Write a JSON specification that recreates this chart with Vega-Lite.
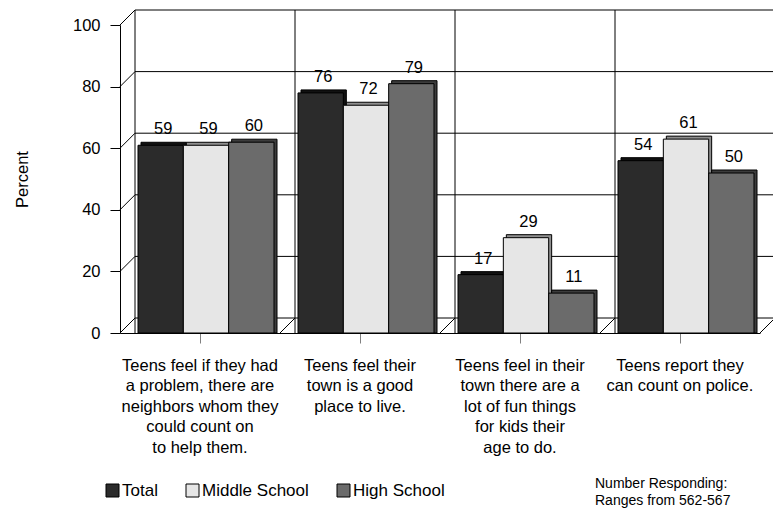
{
  "$schema": "https://vega.github.io/schema/vega-lite/v6.json",
  "width": 640,
  "height": 308,
  "autosize": {"type": "none"},
  "padding": {"left": 120, "top": 25, "right": 13, "bottom": 175},
  "background": "white",
  "config": {
    "font": "Liberation Sans",
    "view": {"stroke": null},
    "axis": {"domainColor": "black", "labelColor": "black", "titleColor": "black", "grid": false}
  },
  "title": {
    "text": ["Number Responding:", "Ranges from 562-567"],
    "orient": "bottom",
    "anchor": "start",
    "align": "left",
    "frame": "group",
    "dx": 475,
    "offset": -22,
    "baseline": "top",
    "fontSize": 14,
    "fontWeight": "normal",
    "lineHeight": 17,
    "color": "black"
  },
  "datasets": {
    "survey": [
      {"item": "Teens feel if they had\na problem, there are\nneighbors whom they\ncould count on\nto help them.", "group": "Total", "percent": 59},
      {"item": "Teens feel if they had\na problem, there are\nneighbors whom they\ncould count on\nto help them.", "group": "Middle School", "percent": 59},
      {"item": "Teens feel if they had\na problem, there are\nneighbors whom they\ncould count on\nto help them.", "group": "High School", "percent": 60},
      {"item": "Teens feel their\ntown is a good\nplace to live.", "group": "Total", "percent": 76},
      {"item": "Teens feel their\ntown is a good\nplace to live.", "group": "Middle School", "percent": 72},
      {"item": "Teens feel their\ntown is a good\nplace to live.", "group": "High School", "percent": 79},
      {"item": "Teens feel in their\ntown there are a\nlot of fun things\nfor kids their\nage to do.", "group": "Total", "percent": 17},
      {"item": "Teens feel in their\ntown there are a\nlot of fun things\nfor kids their\nage to do.", "group": "Middle School", "percent": 29},
      {"item": "Teens feel in their\ntown there are a\nlot of fun things\nfor kids their\nage to do.", "group": "High School", "percent": 11},
      {"item": "Teens report they\ncan count on police.", "group": "Total", "percent": 54},
      {"item": "Teens report they\ncan count on police.", "group": "Middle School", "percent": 61},
      {"item": "Teens report they\ncan count on police.", "group": "High School", "percent": 50}
    ],
    "levels": [
      {"level": 0}, {"level": 20}, {"level": 40}, {"level": 60}, {"level": 80}, {"level": 100}
    ]
  },
  "resolve": {"scale": {"xOffset": "independent"}},
  "layer": [
    {
      "description": "back wall: horizontal grid lines",
      "data": {"name": "levels"},
      "mark": {"type": "rule", "color": "black", "strokeWidth": 1, "xOffset": 15, "x2Offset": 15, "yOffset": -15, "y2Offset": -15},
      "encoding": {
        "x": {"value": 0},
        "x2": {"value": "width"},
        "y": {"field": "level", "type": "quantitative"},
        "y2": {"field": "level"}
      }
    },
    {
      "description": "back wall: category dividers",
      "data": {"name": "survey"},
      "transform": [{"filter": "datum.group === 'Total'"}],
      "mark": {"type": "rule", "color": "black", "strokeWidth": 1, "xOffset": 15, "yOffset": -15, "y2Offset": -15},
      "encoding": {
        "x": {"field": "item", "type": "nominal", "bandPosition": 0}
      }
    },
    {
      "description": "left wall: depth lines at each major level",
      "data": {"name": "levels"},
      "mark": {"type": "rule", "color": "black", "strokeWidth": 1, "x2Offset": 15, "y2Offset": -15},
      "encoding": {
        "x": {"value": 0},
        "x2": {"value": 0},
        "y": {"field": "level", "type": "quantitative"},
        "y2": {"field": "level"}
      }
    },
    {
      "description": "floor: depth lines at category boundaries",
      "data": {"name": "survey"},
      "transform": [{"filter": "datum.group === 'Total'"}],
      "mark": {"type": "rule", "color": "black", "strokeWidth": 1, "x2Offset": 15, "y2Offset": -15},
      "encoding": {
        "x": {"field": "item", "type": "nominal", "bandPosition": 0},
        "x2": {"field": "item", "bandPosition": 0},
        "y": {"datum": 0, "type": "quantitative"},
        "y2": {"datum": 0}
      }
    },
    {
      "description": "floor: closing depth line at the right end",
      "data": {"name": "survey"},
      "transform": [{"filter": "datum.group === 'Total' && indexof(datum.item, 'police') >= 0"}],
      "mark": {"type": "rule", "color": "black", "strokeWidth": 1, "x2Offset": 15, "y2Offset": -15},
      "encoding": {
        "x": {"field": "item", "type": "nominal", "bandPosition": 1},
        "x2": {"field": "item", "bandPosition": 1},
        "y": {"datum": 0, "type": "quantitative"},
        "y2": {"datum": 0}
      }
    },
    {
      "description": "bar depth faces (top and side)",
      "data": {"name": "survey"},
      "mark": {"type": "bar", "stroke": "black", "strokeWidth": 1, "yOffset": -9, "y2Offset": -9},
      "encoding": {
        "x": {"field": "item", "type": "nominal"},
        "xOffset": {
          "field": "group", "type": "nominal",
          "scale": {"domain": ["Total", "Middle School", "High School"], "range": [21, 157], "paddingInner": 0, "paddingOuter": 0}
        },
        "y": {"field": "percent", "type": "quantitative", "stack": null},
        "fill": {
          "field": "group", "type": "nominal", "legend": null,
          "scale": {"domain": ["High School", "Middle School", "Total"], "range": ["#3c3c3c", "#8f8f8f", "#111111"]}
        }
      }
    },
    {
      "description": "bar front faces",
      "data": {"name": "survey"},
      "mark": {"type": "bar", "stroke": "black", "strokeWidth": 1, "yOffset": -6, "y2Offset": -6},
      "encoding": {
        "x": {
          "field": "item", "type": "nominal", "title": null,
          "scale": {
            "domain": [
              "Teens feel if they had\na problem, there are\nneighbors whom they\ncould count on\nto help them.",
              "Teens feel their\ntown is a good\nplace to live.",
              "Teens feel in their\ntown there are a\nlot of fun things\nfor kids their\nage to do.",
              "Teens report they\ncan count on police."
            ],
            "paddingInner": 0, "paddingOuter": 0
          },
          "axis": {
            "labelExpr": "split(datum.label, '\\n')",
            "labelAngle": 0,
            "labelAlign": "center",
            "labelBaseline": "top",
            "labelFontSize": 16.5,
            "labelLineHeight": 20.5,
            "labelLimit": 300,
            "labelPadding": 14,
            "tickSize": 10,
            "tickColor": "#808080",
            "domainColor": "black"
          }
        },
        "xOffset": {
          "field": "group", "type": "nominal",
          "scale": {"domain": ["Total", "Middle School", "High School"], "range": [18, 154], "paddingInner": 0, "paddingOuter": 0}
        },
        "y": {
          "field": "percent", "type": "quantitative", "stack": null,
          "scale": {"domain": [0, 100], "nice": false},
          "axis": {
            "title": "Percent",
            "titleFontSize": 16.5,
            "titleFontWeight": "normal",
            "titleAngle": -90,
            "titleX": -98,
            "titleY": 154,
            "titleAlign": "center",
            "titleBaseline": "middle",
            "values": [0, 5, 10, 15, 20, 25, 30, 35, 40, 45, 50, 55, 60, 65, 70, 75, 80, 85, 90, 95, 100],
            "labelExpr": "datum.value % 20 === 0 ? datum.label : ''",
            "labelFontSize": 16.5,
            "labelPadding": 10,
            "tickColor": "black",
            "tickSize": {"condition": {"test": "datum.value % 20 === 0", "value": 10}, "value": 5}
          }
        },
        "color": {
          "field": "group", "type": "nominal",
          "scale": {"domain": ["Total", "Middle School", "High School"], "range": ["#2b2b2b", "#e6e6e6", "#6b6b6b"]},
          "legend": {
            "orient": "none",
            "legendX": -16,
            "legendY": 457,
            "direction": "horizontal",
            "title": null,
            "padding": 0,
            "symbolType": "square",
            "symbolSize": 169,
            "symbolStrokeColor": "black",
            "symbolStrokeWidth": 1,
            "labelFontSize": 17,
            "labelColor": "black",
            "labelOffset": 1,
            "columnPadding": 26
          }
        }
      }
    },
    {
      "description": "value labels above bars",
      "data": {"name": "survey"},
      "mark": {"type": "text", "fontSize": 16.5, "color": "black", "baseline": "alphabetic", "dx": 2.5, "dy": -17},
      "encoding": {
        "x": {"field": "item", "type": "nominal"},
        "xOffset": {
          "field": "group", "type": "nominal",
          "scale": {"type": "point", "domain": ["Total", "Middle School", "High School"], "range": [40.7, 131.3], "padding": 0}
        },
        "y": {"field": "percent", "type": "quantitative", "stack": null},
        "text": {"field": "percent", "type": "quantitative"}
      }
    }
  ]
}
